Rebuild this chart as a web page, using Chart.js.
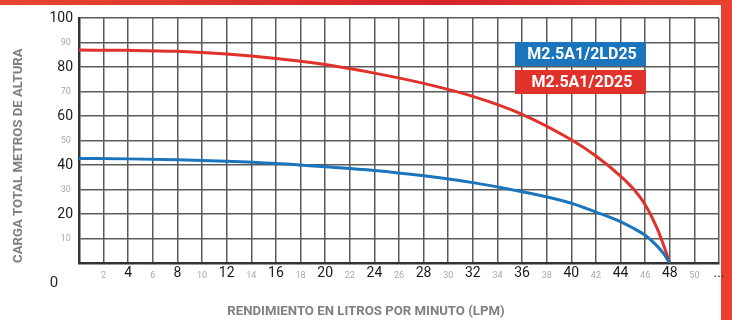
<!DOCTYPE html>
<html>
<head>
<meta charset="utf-8">
<script src="https://cdn.jsdelivr.net/npm/chart.js@4.4.1/dist/chart.umd.min.js"></script>
<style>
  html, body { margin: 0; padding: 0; background: #fff; }
  #wrap { width: 732px; height: 320px; }
</style>
</head>
<body>
<div id="wrap"><canvas id="pumpChart" width="732" height="320"></canvas></div>
<script>
// ---- data ----
const flowLpm = [0, 4, 8, 12, 16, 20, 24, 28, 32, 36, 40, 42, 44, 45, 46, 47, 47.5, 48];
const headD25 = [86.9, 86.8, 86.4, 85.3, 83.5, 81.0, 77.5, 73.3, 68.0, 60.7, 50.3, 43.7, 35.5, 30.5, 23.8, 13.8, 7.2, 0];
const headLD25 = [42.7, 42.5, 42.1, 41.5, 40.6, 39.3, 37.8, 35.6, 32.8, 29.1, 24.4, 20.8, 16.9, 14.3, 11.3, 6.8, 3.8, 0];
const seriesNames = ['M2.5A1/2LD25', 'M2.5A1/2D25'];
const seriesColors = ['#1b75bc', '#e0312b'];
const xTitle = 'RENDIMIENTO EN LITROS POR MINUTO (LPM)';
const yTitle = 'CARGA TOTAL METROS DE ALTURA';

const FONT = "Roboto, 'Open Sans', sans-serif";

// red frame, legend boxes, stray "0" and x title
const decorPlugin = {
  id: 'decor',
  beforeDraw(chart) {
    const ctx = chart.ctx;
    ctx.save();
    const grad = ctx.createLinearGradient(0, 0, 732, 0);
    grad.addColorStop(0, '#e8452f');
    grad.addColorStop(0.6, '#d3242c');
    grad.addColorStop(1, '#e8412f');
    ctx.fillStyle = grad;
    ctx.fillRect(0, 0, 732, 5);
    ctx.fillStyle = '#e8402f';
    ctx.fillRect(721, 0, 11, 320);
    ctx.restore();
  },
  afterDraw(chart) {
    const ctx = chart.ctx;
    ctx.save();
    // legend boxes
    const boxes = [{ y: 42 }, { y: 70 }];
    chart.data.datasets.forEach((ds, i) => {
      ctx.fillStyle = ds.borderColor;
      ctx.fillRect(515, boxes[i].y, 131, 24);
      ctx.fillStyle = '#fff';
      ctx.font = 'bold 16px ' + FONT;
      ctx.textAlign = 'center';
      ctx.textBaseline = 'middle';
      ctx.fillText(ds.label, 582, boxes[i].y + 13);
    });
    // the lone zero at the origin
    ctx.fillStyle = '#2a2a2a';
    ctx.font = '15px ' + FONT;
    ctx.textAlign = 'center';
    ctx.textBaseline = 'middle';
    ctx.fillText('0', 54, 283);
    // x axis title
    ctx.fillStyle = '#7f7f7f';
    ctx.font = 'bold 13.2px ' + FONT;
    ctx.fillText(xTitle, 366, 312);
    ctx.restore();
  }
};

const ctx = document.getElementById('pumpChart').getContext('2d');

new Chart(ctx, {
  type: 'line',
  data: {
    datasets: [
      {
        label: seriesNames[0],
        data: flowLpm.map((x, i) => ({ x, y: headLD25[i] })),
        borderColor: seriesColors[0],
        borderWidth: 3,
        pointRadius: 0,
        cubicInterpolationMode: 'monotone',
        fill: false
      },
      {
        label: seriesNames[1],
        data: flowLpm.map((x, i) => ({ x, y: headD25[i] })),
        borderColor: seriesColors[1],
        borderWidth: 3,
        pointRadius: 0,
        cubicInterpolationMode: 'monotone',
        fill: false
      }
    ]
  },
  options: {
    responsive: false,
    animation: false,
    layout: { padding: { left: 8, top: 18, right: 13, bottom: 0 } },
    plugins: {
      legend: { display: false },
      tooltip: { enabled: false }
    },
    scales: {
      x: {
        type: 'linear',
        min: 0,
        max: 52,
        afterFit: (scale) => { scale.height = 57; },
        grid: { color: '#5a5a5a', lineWidth: 1.5, drawTicks: false },
        border: { color: '#333', width: 2.5 },
        ticks: {
          stepSize: 2,
          padding: 2,
          autoSkip: false,
          maxRotation: 0,
          callback: (v) => (v === 0 ? '' : v === 52 ? '...' : String(v)),
          font: (c) => {
            const v = c.tick ? c.tick.value : 0;
            return (v % 4 === 0) ? { family: FONT, size: 14, lineHeight: 1.2 } : { family: FONT, size: 9, lineHeight: 2.3 };
          },
          color: (c) => {
            const v = c.tick ? c.tick.value : 0;
            return (v % 4 === 0) ? '#1a1a1a' : '#a8a8a8';
          }
        }
      },
      y: {
        min: 0,
        max: 100,
        afterFit: (scale) => { scale.width = 71; },
        grid: { color: '#5a5a5a', lineWidth: 1.5, drawTicks: false },
        border: { color: '#333', width: 2.5 },
        title: {
          display: true,
          text: yTitle,
          align: 'start',
          color: '#7f7f7f',
          font: { family: FONT, size: 13.2, weight: 'bold' },
          padding: { top: 3, bottom: 0 }
        },
        ticks: {
          stepSize: 10,
          padding: 6,
          callback: (v) => (v === 0 ? '' : v % 20 === 0 ? String(v) : v + ' '),
          font: (c) => {
            const v = c.tick ? c.tick.value : 0;
            return (v % 20 === 0) ? { family: FONT, size: 14 } : { family: FONT, size: 9 };
          },
          color: (c) => {
            const v = c.tick ? c.tick.value : 0;
            return (v % 20 === 0) ? '#1a1a1a' : '#a8a8a8';
          }
        }
      }
    }
  },
  plugins: [decorPlugin]
});
</script>
</body>
</html>
